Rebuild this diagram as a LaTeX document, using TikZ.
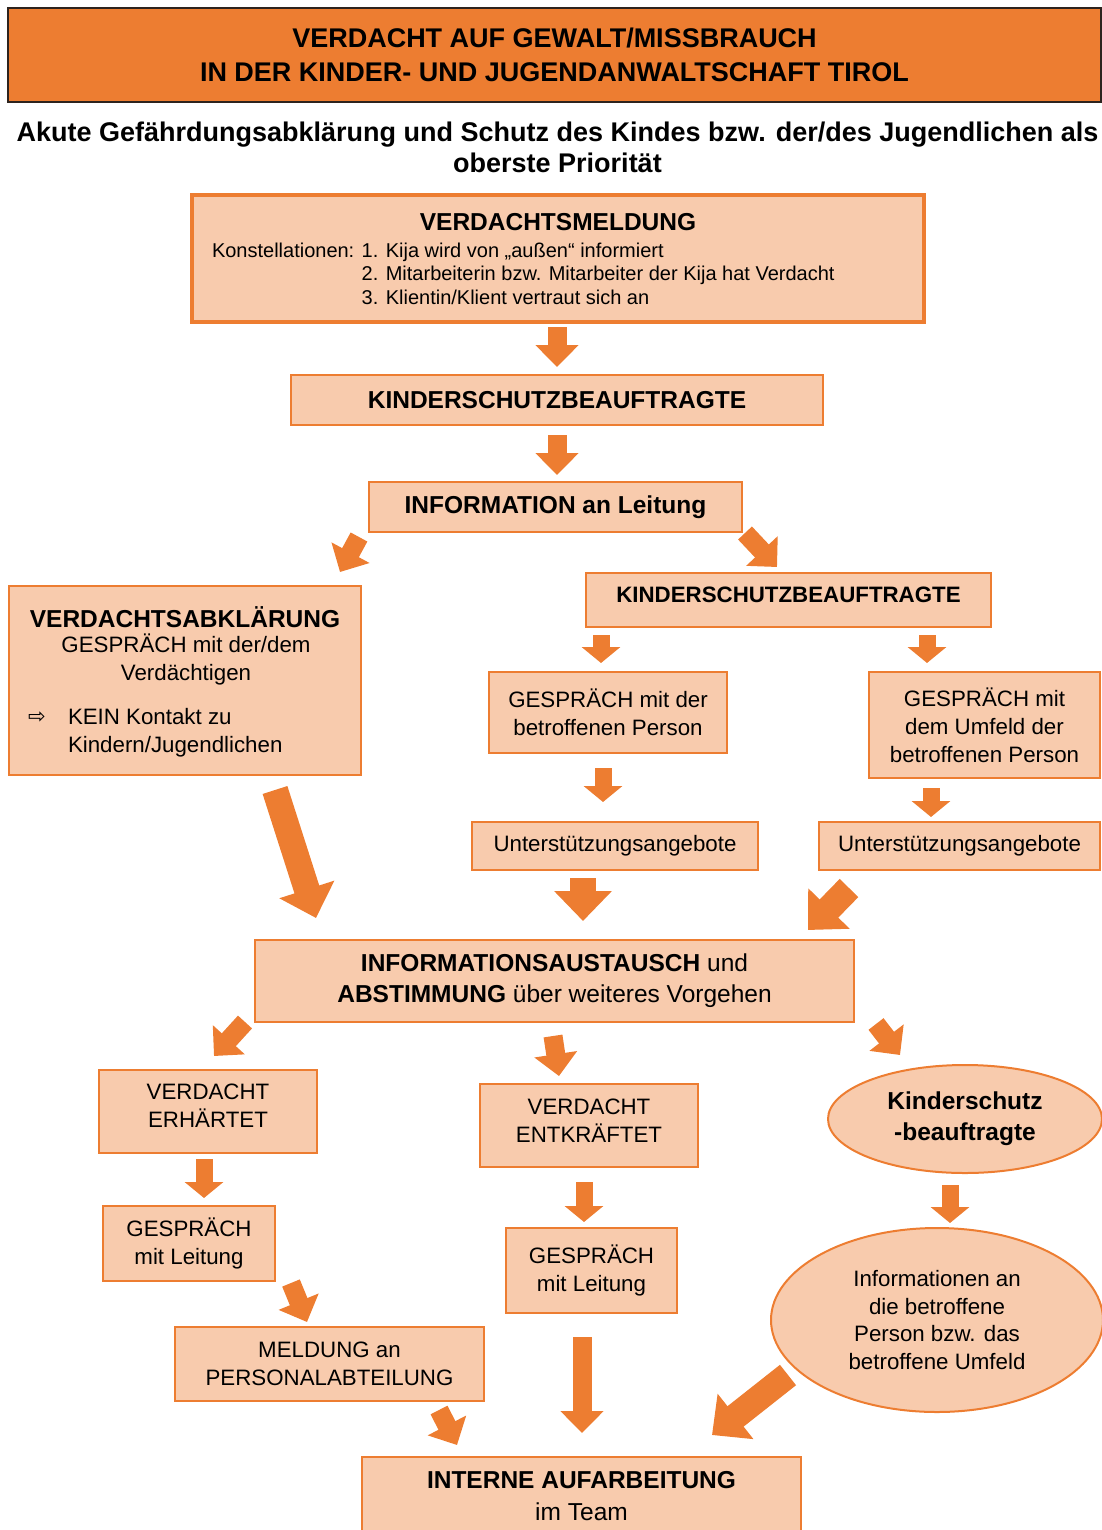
\documentclass[tikz,border=0pt]{standalone}
\usepackage{fontspec}
\setmainfont{Liberation Sans}
\newfontfamily\symfont{DejaVu Sans}
\usetikzlibrary{arrows.meta,shapes.geometric,calc}
\definecolor{kijaorange}{RGB}{237,125,49}
\definecolor{kijalight}{RGB}{248,203,173}
\definecolor{kijadark}{RGB}{45,35,30}
\newcommand{\regfont}{\fontsize{22.3}{28}\selectfont}
\newcommand{\headfont}{\fontsize{24.5}{31}\selectfont}

\begin{document}
\begin{tikzpicture}
    [x=1pt,y=-1pt,
     box/.style={rectangle,draw=kijaorange,fill=kijalight,line width=2pt,inner sep=0pt,outer sep=0pt,align=center,font=\regfont},
     headbox/.style={box,font=\headfont\bfseries},
     oval/.style={ellipse,draw=kijaorange,fill=kijalight,line width=2pt,inner sep=0pt,outer sep=0pt,align=center},
     txt/.style={inner sep=0pt,outer sep=0pt,align=center},
     flow/.style={draw=kijaorange,line width=19pt,-{Triangle[width=42pt,length=22pt]}},
     smallflow/.style={flow,line width=17pt,-{Triangle[width=38pt,length=16pt]}},
     bigflow/.style={flow,line width=26pt,-{Triangle[width=56pt,length=30pt]}}]
    \useasboundingbox (0,0) rectangle (1102,1530);

    \node[rectangle,draw=kijadark,fill=kijaorange,line width=1.5pt,minimum width=1093,minimum height=94,align=center,
          font=\fontsize{27}{34}\selectfont\bfseries] (title) at (554.5,55)
          {VERDACHT AUF GEWALT/MISSBRAUCH\\IN DER KINDER- UND JUGENDANWALTSCHAFT TIROL};
    \node[txt,font=\fontsize{27}{31}\selectfont\bfseries] (sub) at (557.5,147)
          {Akute Gefährdungsabklärung und Schutz des Kindes bzw. der/des Jugendlichen als\\oberste Priorität};

    \node[box,line width=4pt,minimum width=732,minimum height=127] (meld) at (557.5,258.5) {};
    \node[txt,font=\headfont\bfseries] (meldhead) at (558,222) {VERDACHTSMELDUNG};
    \node[txt,anchor=west,align=left,font=\fontsize{20}{23.5}\selectfont] (meldlist) at (212,273.5)
          {Konstellationen: 1. Kija wird von „außen“ informiert\\
           \phantom{Konstellationen: }2. Mitarbeiterin bzw. Mitarbeiter der Kija hat Verdacht\\
           \phantom{Konstellationen: }3. Klientin/Klient vertraut sich an};

    \node[headbox,minimum width=532,minimum height=50] (ksb1) at (557,400) {KINDERSCHUTZBEAUFTRAGTE};
    \node[headbox,minimum width=373,minimum height=50] (info) at (555.5,507) {INFORMATION an Leitung};

    \node[box,minimum width=352,minimum height=189] (vabk) at (185,680.5) {};
    \node[txt,font=\headfont\bfseries] (vabkhead) at (185,617) {VERDACHTSABKLÄRUNG};
    \node[txt,font=\regfont] (vabktxt) at (186,659) {GESPRÄCH mit der/dem\\Verdächtigen};
    \node[txt,font=\symfont\fontsize{21}{24}\selectfont] (vabksym) at (37,718) {⇨};
    \node[txt,anchor=west,align=left,font=\regfont] (vabknote) at (68,732.5) {KEIN Kontakt zu\\Kindern/Jugendlichen};

    \node[box,font=\regfont\bfseries,text depth=10pt,minimum width=405,minimum height=54] (ksb2) at (788.5,600) {KINDERSCHUTZBEAUFTRAGTE};
    \node[box,minimum width=238,minimum height=81] (g1) at (608,712.5) {GESPRÄCH mit der\\betroffenen Person};
    \node[box,minimum width=231,minimum height=106] (g2) at (984.5,725) {GESPRÄCH mit\\dem Umfeld der\\betroffenen Person};
    \node[box,minimum width=286,minimum height=48] (u1) at (615,846) {Unterstützungsangebote};
    \node[box,minimum width=281,minimum height=48] (u2) at (959.5,846) {Unterstützungsangebote};

    \node[box,font=\headfont,minimum width=599,minimum height=82] (ia) at (554.5,981)
          {\textbf{INFORMATIONSAUSTAUSCH} und\\\textbf{ABSTIMMUNG} über weiteres Vorgehen};

    \node[box,text depth=11pt,minimum width=218,minimum height=83] (ve) at (208,1111.5) {VERDACHT\\ERHÄRTET};
    \node[box,text depth=9pt,minimum width=218,minimum height=83] (vk) at (589,1125.5) {VERDACHT\\ENTKRÄFTET};
    \node[oval,font=\headfont\bfseries,minimum width=274,minimum height=108] (ks) at (965,1119) {Kinderschutz\\-beauftragte};
    \node[box,minimum width=172,minimum height=75] (gl1) at (189,1243.5) {GESPRÄCH\\mit Leitung};
    \node[box,minimum width=171,minimum height=85] (gl2) at (591.5,1270.5) {GESPRÄCH\\mit Leitung};
    \node[oval,font=\fontsize{22.3}{27.5}\selectfont,minimum width=332,minimum height=184] (ki) at (937,1320)
          {Informationen an\\die betroffene\\Person bzw. das\\betroffene Umfeld};
    \node[box,minimum width=309,minimum height=74] (mp) at (329.5,1364) {MELDUNG an\\PERSONALABTEILUNG};
    \node[box,font=\fontsize{24.5}{32}\selectfont,minimum width=439,minimum height=78] (ia2) at (581.5,1496)
          {\textbf{INTERNE AUFARBEITUNG}\\im Team};

    \draw[flow] ($(meld.south)+(-0.5,5)$) -- ($(ksb1.north)+(0,-8)$);
    \draw[flow] ($(ksb1.south)+(0,10)$) -- ($(info.north)+(1.5,-7)$);
    \draw[flow] ($(info.south west)+(-10,5)$) -- ($(vabk.north east)+(-21,-14)$);
    \draw[flow] ($(info.south east)+(3,1)$) -- ($(ksb2.north)+(-11.5,-6)$);
    \draw[smallflow] ($(ksb2.south west)+(15,8)$) -- ($(g1.north)+(-7,-9)$);
    \draw[smallflow] ($(ksb2.south east)+(-64,8)$) -- ($(g2.north)+(-57.5,-9)$);
    \draw[smallflow] ($(g1.south)+(-5,15)$) -- ($(u1.north)+(-12,-20)$);
    \draw[smallflow] ($(g2.south)+(-53.5,10)$) -- ($(u2.north)+(-28.5,-5)$);
    \draw[bigflow] ($(vabk.south)+(90,15)$) -- ($(ia.north west)+(61,-22)$);
    \draw[bigflow] ($(u1.south)+(-32,8)$) -- ($(ia.north)+(28.5,-19)$);
    \draw[bigflow] ($(u2.south west)+(30,18)$) -- ($(ia.north east)+(-46,-10)$);
    \draw[flow] ($(ia.south west)+(-10,0)$) -- ($(ve.north)+(6,-14)$);
    \draw[flow] ($(ia.south)+(-1.5,14)$) -- ($(vk.north)+(-30,-8)$);
    \draw[flow] ($(ia.south east)+(22,2)$) -- ($(ks.north)+(-65,-10)$);
    \draw[smallflow] ($(ve.south)+(-4,6)$) -- ($(gl1.north)+(15,-8)$);
    \draw[smallflow] ($(vk.south)+(-5,15)$) -- ($(gl2.north)+(-7.5,-6)$);
    \draw[smallflow] ($(ks.south)+(-15,12)$) -- ($(ki.north)+(13,-5)$);
    \draw[flow] ($(gl1.south east)+(16,2)$) -- ($(mp.north west)+(132,-5)$);
    \draw[flow] ($(gl2.south)+(-9.5,24)$) -- ($(ia2.north)+(0.5,-24)$);
    \draw[bigflow] ($(ki.center)+(-149,55)$) -- ($(ia2.north east)+(-89,-22)$);
    \draw[flow] ($(mp.south east)+(-45,9)$) -- ($(ia2.north west)+(95,-12)$);
  \end{tikzpicture}
\end{document}
